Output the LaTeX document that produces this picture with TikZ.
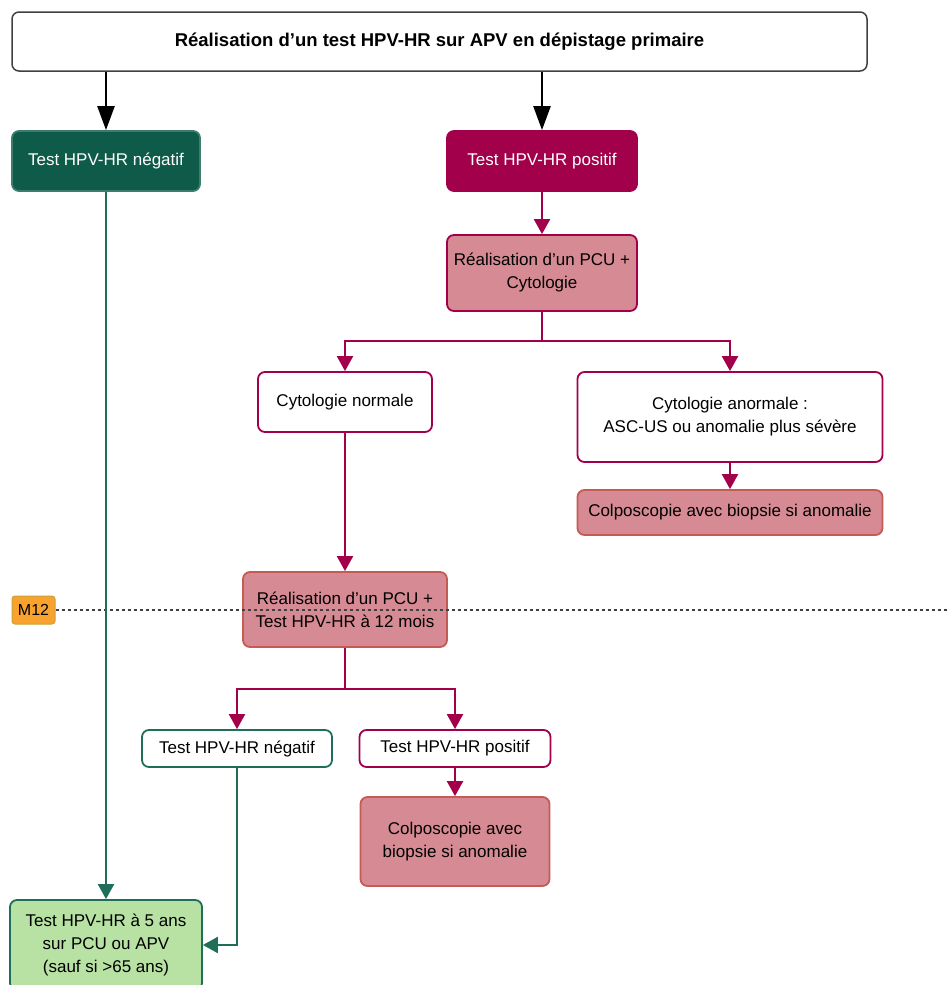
\documentclass[tikz,border=0pt]{standalone}
\usepackage{fontspec}
\setmainfont{Liberation Sans}
\usetikzlibrary{arrows.meta}

\definecolor{negdark}{HTML}{0E5B49}
\definecolor{negline}{HTML}{1F6E5A}
\definecolor{neglight}{HTML}{B8E1A4}
\definecolor{posdark}{HTML}{A2004B}
\definecolor{pospink}{HTML}{D68A93}
\definecolor{posred}{HTML}{C65A55}
\definecolor{mtwelve}{HTML}{F8A22F}
\definecolor{mtwelveline}{HTML}{C9A235}

\begin{document}
\begin{tikzpicture}[x=1pt,y=-1pt,
    every node/.style={font=\fontsize{17}{23}\selectfont},
    box/.style={draw, rounded corners=7pt, line width=1.8pt, align=center, inner sep=0pt},
    blackarrow/.style={line width=2.4pt, -{Triangle[length=24pt,width=17pt]}},
    posarrow/.style={posdark, line width=2.2pt, -{Triangle[length=15pt,width=16pt]}},
    posline/.style={posdark, line width=2.2pt},
    negarrow/.style={negline, line width=2.2pt, -{Triangle[length=15pt,width=16pt]}}]
    \useasboundingbox (0,0) rectangle (950,985);
    \clip (0,0) rectangle (950,985);

    % boxes
    \node[box, line width=1.5pt, draw=black!75, fill=white, minimum width=855pt, minimum height=59pt, font=\fontsize{18.5}{23}\selectfont\bfseries] (top) at (439.5,41.5) {Réalisation d'un test HPV-HR sur APV en dépistage primaire};
    \node[box, draw=negdark!80, fill=negdark, text=white, minimum width=188pt, minimum height=60pt] (neg) at (106,161) {Test HPV-HR négatif};
    \node[box, draw=posdark, fill=posdark, text=white, minimum width=190pt, minimum height=60pt] (pos) at (542,161) {Test HPV-HR positif};
    \node[box, draw=posdark, fill=pospink, minimum width=190pt, minimum height=76pt] (pcu) at (542,273) {Réalisation d'un PCU +\\Cytologie};
    \node[box, draw=posdark, fill=white, minimum width=174pt, minimum height=60pt] (cytnorm) at (345,402) {Cytologie normale};
    \node[box, draw=posdark, fill=white, minimum width=305pt, minimum height=90pt] (cytanorm) at (730,417) {Cytologie anormale :\\ASC-US ou anomalie plus sévère};
    \node[box, draw=posred, fill=pospink, minimum width=305pt, minimum height=45pt] (colpo) at (730,512.5) {Colposcopie avec biopsie si anomalie};
    \node[box, draw=posred, fill=pospink, minimum width=204pt, minimum height=75pt] (pcutwelve) at (345,609.5) {Réalisation d'un PCU +\\Test HPV-HR à 12 mois};
    \node[box, draw=negline, fill=white, minimum width=190pt, minimum height=37pt] (negtwelve) at (237,748.5) {Test HPV-HR négatif};
    \node[box, draw=posdark, fill=white, minimum width=191pt, minimum height=37pt] (postwelve) at (455,748.5) {Test HPV-HR positif};
    \node[box, draw=posred, fill=pospink, minimum width=189pt, minimum height=89pt] (colpotwelve) at (455,841.5) {Colposcopie avec\\biopsie si anomalie};
    \node[box, draw=negline, fill=neglight, minimum width=192pt, minimum height=90pt] (fiveyears) at (106,945) {Test HPV-HR à 5 ans\\sur PCU ou APV\\(sauf si >65 ans)};
    \node[box, rounded corners=3pt, line width=1pt, draw=mtwelveline, fill=mtwelve, minimum width=43pt, minimum height=28pt, font=\fontsize{16}{19}\selectfont] (mtw) at (33.5,610) {M12};

    % time line
    \coordinate (mtwend) at (950,610);
    \draw[black!75, line width=1.3pt, dash pattern=on 3pt off 3pt] (mtw.east) -- (mtwend);

    % connectors
    \draw[blackarrow] (neg |- top.south) -- (neg.north);
    \draw[blackarrow] (pos |- top.south) -- (pos.north);
    \draw[posarrow] (pos) -- (pcu);
    \draw[posline] (pcu.south) -- ++(0,29) coordinate (splitone);
    \draw[posarrow] (splitone) -| (cytnorm.north);
    \draw[posarrow] (splitone) -| (cytanorm.north);
    \draw[posarrow] (cytanorm) -- (colpo);
    \draw[posarrow] (cytnorm) -- (pcutwelve);
    \draw[posline] (pcutwelve.south) -- ++(0,41) coordinate (splittwo);
    \draw[posarrow] (splittwo) -| (negtwelve.north);
    \draw[posarrow] (splittwo) -| (postwelve.north);
    \draw[posarrow] (postwelve) -- (colpotwelve);
    \draw[negarrow] (neg) -- (fiveyears);
    \draw[negarrow] (negtwelve.south) |- (fiveyears.east);
\end{tikzpicture}
\end{document}
